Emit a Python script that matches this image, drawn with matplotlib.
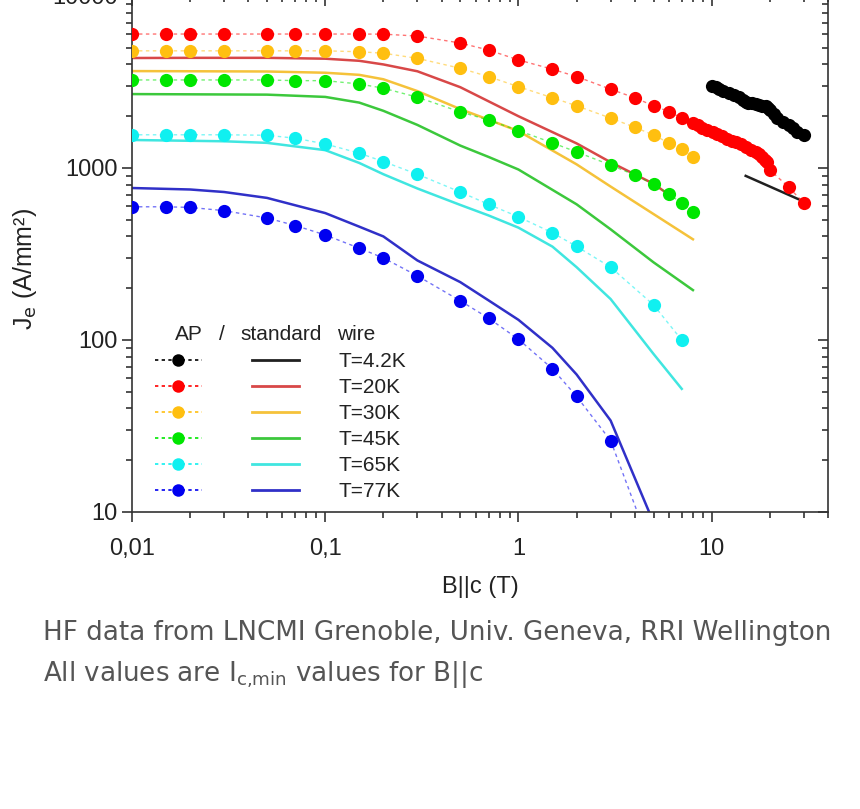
import matplotlib.pyplot as plt
from matplotlib.lines import Line2D
from matplotlib.legend_handler import HandlerTuple
from matplotlib.ticker import LogLocator, FuncFormatter, NullFormatter

plt.rcParams['font.family'] = ['Liberation Sans', 'DejaVu Sans']

# temperatures / colours
temps = ['T=4.2K', 'T=20K', 'T=30K', 'T=45K', 'T=65K', 'T=77K']
dot_colors = ['#000000', '#ff0000', '#ffbf10', '#00e600', '#10f0f0', '#0000f0']
line_colors = ['#202020', '#d84848', '#f5c23a', '#3cc83c', '#40e6e0', '#3030c8']

# AP wire (dots)
ap4_B = [10, 10.5, 10.9, 11.5, 12.3, 13, 13.9, 14.5, 15, 15.5, 16.2, 16.9, 17.5, 18.2,
         19, 19.5, 20, 21, 21.9, 23.5, 25.1, 26.5, 27.8, 30]
ap4_J = [3000, 2940, 2870, 2800, 2720, 2650, 2580, 2500, 2430, 2400, 2390, 2370, 2330, 2300,
         2290, 2230, 2170, 2050, 1950, 1850, 1780, 1700, 1630, 1560]

ap20_B = [0.01, 0.015, 0.02, 0.03, 0.05, 0.07, 0.1, 0.15, 0.2, 0.3, 0.5, 0.7, 1, 1.5, 2, 3,
          4, 5, 6, 7, 8, 8.5, 8.9, 9.5, 10.1, 10.7, 11.3, 12, 12.7, 13.4, 14.2, 15.1, 16,
          17, 17.6, 18.2, 18.8, 19.4, 20, 25, 30]
ap20_J = [6010, 6010, 6010, 6010, 6010, 6010, 6010, 6010, 6000, 5850, 5330, 4850, 4250, 3750,
          3400, 2870, 2560, 2300, 2130, 1950, 1830, 1770, 1710, 1660, 1620, 1575, 1535, 1480,
          1440, 1415, 1370, 1325, 1280, 1240, 1200, 1160, 1120, 1085, 975, 775, 625]

ap_B = [0.01, 0.015, 0.02, 0.03, 0.05, 0.07, 0.1, 0.15, 0.2, 0.3, 0.5, 0.7, 1, 1.5, 2, 3,
        4, 5, 6, 7, 8]
ap30_J = [4800, 4800, 4800, 4800, 4800, 4800, 4800, 4740, 4650, 4340, 3800, 3400, 2970, 2560,
          2300, 1950, 1725, 1555, 1400, 1285, 1165]
ap45_J = [3250, 3250, 3250, 3250, 3250, 3220, 3220, 3080, 2910, 2580, 2120, 1900, 1650, 1400,
          1240, 1040, 910, 805, 705, 625, 557]

ap65_B = [0.01, 0.015, 0.02, 0.03, 0.05, 0.07, 0.1, 0.15, 0.2, 0.3, 0.5, 0.7, 1, 1.5, 2, 3, 5, 7]
ap65_J = [1560, 1560, 1560, 1560, 1550, 1490, 1380, 1220, 1090, 920, 725, 615, 520, 420, 350,
          265, 160, 100]

ap77_B = [0.01, 0.015, 0.02, 0.03, 0.05, 0.07, 0.1, 0.15, 0.2, 0.3, 0.5, 0.7, 1, 1.5, 2, 3]
ap77_J = [595, 595, 590, 565, 512, 463, 408, 342, 300, 236, 169, 134, 101, 68, 47, 26]
ap77_tail_B = [3, 4.6]
ap77_tail_J = [26, 7.2]

# standard wire (lines)
std4_B = [15, 28]
std4_J = [900, 660]
std20_B = [0.01, 0.02, 0.05, 0.1, 0.15, 0.2, 0.3, 0.5, 1, 2, 3, 5, 6]
std20_J = [4360, 4370, 4370, 4320, 4200, 4000, 3650, 2950, 2000, 1390, 1080, 810, 700]
std_B = [0.01, 0.05, 0.1, 0.15, 0.2, 0.3, 0.5, 0.7, 1, 2, 3, 5, 8]
std30_J = [3660, 3640, 3580, 3480, 3280, 2800, 2200, 1910, 1640, 1050, 780, 540, 385]
std45_J = [2690, 2670, 2590, 2400, 2150, 1780, 1350, 1160, 980, 615, 440, 283, 195]
std65_B = [0.01, 0.03, 0.05, 0.1, 0.15, 0.2, 0.3, 0.5, 0.7, 1, 1.5, 2, 3, 5, 7]
std65_J = [1455, 1430, 1400, 1270, 1070, 920, 760, 610, 530, 450, 349, 265, 173, 83, 52]
std77_B = [0.01, 0.02, 0.03, 0.05, 0.07, 0.1, 0.15, 0.2, 0.3, 0.5, 0.7, 1, 1.5, 2, 3, 4.8]
std77_J = [765, 750, 725, 670, 607, 547, 456, 400, 290, 217, 170, 131, 90, 63, 34, 9.7]

ap_series = [(ap4_B, ap4_J), (ap20_B, ap20_J), (ap_B, ap30_J), (ap_B, ap45_J),
             (ap65_B, ap65_J), (ap77_B, ap77_J)]
std_series = [(std4_B, std4_J), (std20_B, std20_J), (std_B, std30_J), (std_B, std45_J),
              (std65_B, std65_J), (std77_B, std77_J)]

fig = plt.figure(figsize=(8.6, 8.09), dpi=100)
ax = fig.add_axes([132 / 860, 297 / 809, 696 / 860, 516 / 809])

dash = (0, (2.5, 2.5))
for (b, j), lc in zip(std_series, line_colors):
    ax.plot(b, j, color=lc, lw=1.8, zorder=2)
for (b, j), c in zip(ap_series, dot_colors):
    ax.plot(b, j, color=c, lw=1.0, ls=dash, alpha=0.55, zorder=3)
    ax.plot(b, j, ls='none', marker='o', ms=9.5, mec='none', mfc=c, zorder=4)
ax.plot(ap77_tail_B, ap77_tail_J, color=dot_colors[5], lw=1.0, ls=dash, alpha=0.55, zorder=3)

ax.set_xscale('log')
ax.set_yscale('log')
ax.set_xlim(0.01, 40)
ax.set_ylim(10, 10000)

tick_col = '#222222'
ax.xaxis.set_major_locator(LogLocator(base=10, numticks=10))
ax.xaxis.set_minor_locator(LogLocator(base=10, subs=range(2, 10), numticks=20))
ax.yaxis.set_major_locator(LogLocator(base=10, numticks=10))
ax.yaxis.set_minor_locator(LogLocator(base=10, subs=range(2, 10), numticks=20))
ax.xaxis.set_major_formatter(FuncFormatter(lambda v, p: ('%g' % v).replace('.', ',')))
ax.yaxis.set_major_formatter(FuncFormatter(lambda v, p: '%d' % round(v)))
ax.xaxis.set_minor_formatter(NullFormatter())
ax.yaxis.set_minor_formatter(NullFormatter())

ax.tick_params(which='both', direction='out', colors=tick_col, width=1.1, labelsize=17)
ax.tick_params(which='major', length=7)
ax.tick_params(which='minor', length=4)
ax.tick_params(which='both', top=True, right=True)
ax.tick_params(axis='x', which='major', pad=12)
for s in ax.spines.values():
    s.set_color('#333333')
    s.set_linewidth(1.2)
# top / right ticks point inwards
for t in ax.xaxis.get_major_ticks() + ax.xaxis.get_minor_ticks():
    t.tick2line.set_marker(3)
for t in ax.yaxis.get_major_ticks() + ax.yaxis.get_minor_ticks():
    t.tick2line.set_marker(0)

ax.set_xlabel('B||c (T)', fontsize=17, color=tick_col, labelpad=11)
ax.set_ylabel(r'J$_{\rm e}$ (A/mm²)', fontsize=18, color=tick_col)
ax.yaxis.set_label_coords(-0.133, 0.47)

# legend: AP dots / standard wire lines
handles = []
for c, lc in zip(dot_colors, line_colors):
    h_dot = Line2D([], [], color=c, ls=(0, (2, 2)), lw=1.2, marker='o', ms=9, mec='none')
    h_line = Line2D([], [], color=lc, lw=2.0)
    handles.append((h_dot, h_line))
leg = ax.legend(handles, temps, handler_map={tuple: HandlerTuple(ndivide=2, pad=2.4)},
                loc='upper left', bbox_to_anchor=(23 / 696, 160 / 516), frameon=False,
                fontsize=15, handlelength=6.9, handletextpad=1.9, labelspacing=0.34,
                borderpad=0, borderaxespad=0, numpoints=1)
for t in leg.get_texts():
    t.set_color(tick_col)

hdr_y = (512 - 335) / 516
for xpx, s in [(175, 'AP'), (219, '/'), (240, 'standard'), (337, 'wire')]:
    ax.text((xpx - 132) / 696, hdr_y, s, transform=ax.transAxes, fontsize=15,
            color=tick_col, va='center')

fig.text(43 / 860, 1 - 633 / 809, 'HF data from LNCMI Grenoble, Univ. Geneva, RRI Wellington',
         fontsize=18.8, color='#555555', va='center', family=['DejaVu Sans'])
fig.text(43 / 860, 1 - 674 / 809, r'All values are I$_{\rm c{,}min}$ values for B||c',
         fontsize=18.8, color='#555555', va='center', family=['DejaVu Sans'])

fig.savefig('out.png', dpi=100)
